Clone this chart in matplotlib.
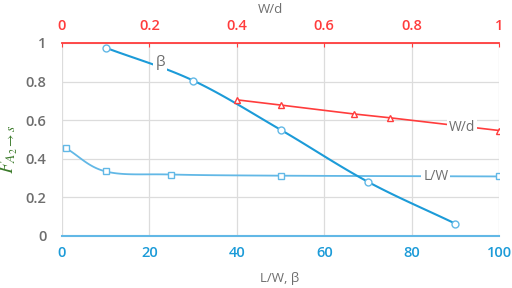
import numpy as np
import matplotlib
matplotlib.use('Agg')
import matplotlib.pyplot as plt

# data
beta_x = [10, 30, 50, 70, 90]
beta_y = [0.975, 0.805, 0.55, 0.28, 0.063]
lw_x = [1, 10, 25, 50, 100]
lw_y = [0.453, 0.334, 0.318, 0.312, 0.308]
wd_x = [0.4, 0.5, 0.667, 0.75, 1.0]
wd_y = [0.705, 0.678, 0.632, 0.612, 0.546]

bottom_ticks = [0, 20, 40, 60, 80, 100]
top_ticks = [0, 0.2, 0.4, 0.6, 0.8, 1]
y_ticks = [0, 0.2, 0.4, 0.6, 0.8, 1]

BLUE = '#1c9bd8'
LBLUE = '#62b8e6'
RED = '#ff3c3c'
GRAY = '#6e6e6e'
GREEN = '#3b7a2a'


def smooth(x, y, n=30):
    # Catmull-Rom style smoothing, similar to a spreadsheet "smoothed line"
    x = np.asarray(x, float)
    y = np.asarray(y, float)
    px = np.concatenate([[2*x[0]-x[1]], x, [2*x[-1]-x[-2]]])
    py = np.concatenate([[2*y[0]-y[1]], y, [2*y[-1]-y[-2]]])
    xs, ys = [], []
    t = np.linspace(0, 1, n)
    for i in range(1, len(px)-2):
        p0, p1, p2, p3 = [np.array([px[j], py[j]]) for j in (i-1, i, i+1, i+2)]
        c1 = p1 + (p2 - p0) / 6
        c2 = p2 - (p3 - p1) / 6
        pts = ((1-t)**3)[:, None]*p1 + (3*(1-t)**2*t)[:, None]*c1 + (3*(1-t)*t**2)[:, None]*c2 + (t**3)[:, None]*p2
        xs.extend(pts[:, 0])
        ys.extend(pts[:, 1])
    return xs, ys


plt.rcParams['font.family'] = ['Open Sans', 'DejaVu Sans']
plt.rcParams['mathtext.fontset'] = 'stix'

fig = plt.figure(figsize=(5.12, 2.88), dpi=100)
ax = fig.add_axes([0.121, 0.181, 0.854, 0.67])

ax.set_xlim(0, 100)
ax.set_ylim(0, 1)
ax.set_xticks(bottom_ticks)
ax.set_yticks(y_ticks)
ax.set_yticklabels(['0', '0.2', '0.4', '0.6', '0.8', '1'])
ax.grid(True, color='#dcdcdc', lw=0.9)
ax.set_axisbelow(True)
for s in ['left', 'right', 'top']:
    ax.spines[s].set_visible(False)
ax.spines['bottom'].set_color(LBLUE)
ax.spines['bottom'].set_linewidth(1.5)
ax.tick_params(axis='x', colors=BLUE, length=0, labelsize=10.5, pad=7)
ax.tick_params(axis='y', colors=GRAY, length=0, labelsize=10.5, pad=11)
for lab in ax.get_xticklabels() + ax.get_yticklabels():
    lab.set_fontweight('semibold')
ax.set_xlabel('L/W, β', color=GRAY, fontsize=9.5)
ax.xaxis.set_label_coords(0.497, -0.222)
ax.xaxis.label.set_va('center')
ax.set_ylabel(r'$F_{A_2\rightarrow s}$', color=GREEN, fontsize=14)
ax.yaxis.set_label_coords(-0.095, 0.45)

sx, sy = smooth(lw_x, lw_y)
ax.plot(sx, sy, color=LBLUE, lw=1.3, zorder=3)
ax.plot(lw_x, lw_y, ls='none', marker='s', ms=5, mfc='white', mec=LBLUE, mew=1, zorder=4)
sx, sy = smooth(beta_x, beta_y)
ax.plot(sx, sy, color=BLUE, lw=1.5, zorder=3)
ax.plot(beta_x, beta_y, ls='none', marker='o', ms=5, mfc='white', mec=LBLUE, mew=1, zorder=4)

ax.text(22.5, 0.9, 'β', color=GRAY, fontsize=11, ha='center', va='center', zorder=5,
        bbox=dict(fc='white', ec='none', pad=1.5))
ax.text(85.5, 0.31, 'L/W', color=GRAY, fontsize=10, ha='center', va='center', zorder=5,
        bbox=dict(fc='white', ec='none', pad=1.5))

ax2 = ax.twiny()
ax2.set_xlim(0, 1)
ax2.set_xticks(top_ticks)
ax2.set_xticklabels(['0', '0.2', '0.4', '0.6', '0.8', '1'])
for s in ['left', 'right', 'bottom']:
    ax2.spines[s].set_visible(False)
ax2.spines['top'].set_color(RED)
ax2.spines['top'].set_linewidth(1.3)
ax2.tick_params(axis='x', colors=RED, direction='in', length=3, labelsize=10.5, pad=7)
for lab in ax2.get_xticklabels():
    lab.set_fontweight('semibold')
ax2.plot(wd_x, wd_y, color=RED, lw=1.2, marker='^', ms=5, mfc='white', mec=RED, mew=1, zorder=4)
ax2.text(0.915, 0.562, 'W/d', color=GRAY, fontsize=10, ha='center', va='center', zorder=5,
         bbox=dict(fc='white', ec='none', pad=1.5))
ax2.set_xlabel('W/d', color=GRAY, fontsize=9.5)
ax2.xaxis.set_label_coords(0.476, 1.175)
ax2.xaxis.label.set_va('center')

fig.savefig('out.png', dpi=100)
